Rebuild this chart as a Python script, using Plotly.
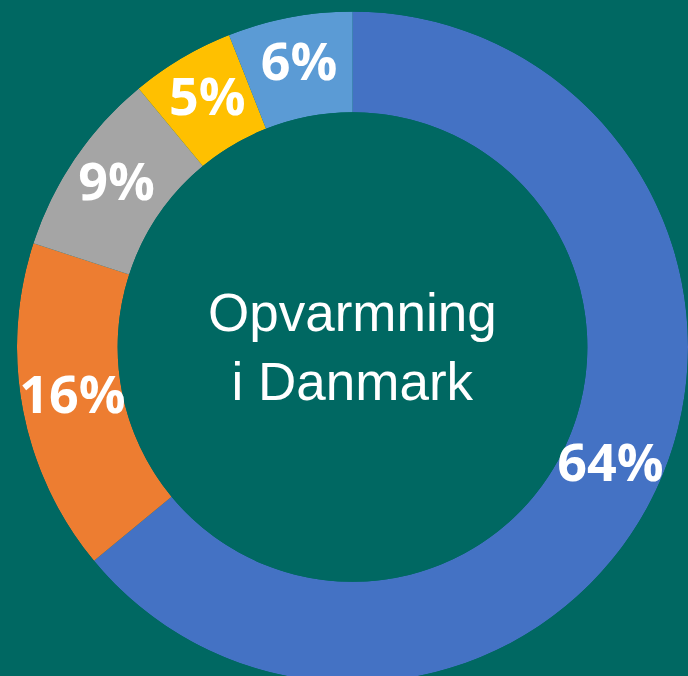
import plotly.graph_objects as go

# Data
categories = ["Kategori A", "Kategori B", "Kategori C", "Kategori D", "Kategori E"]
values = [64, 16, 9, 5, 6]
text_labels = ["64%", "16%", "9%", "5%", "6%"]
slice_colors = ["#4472C4", "#ED7D31", "#A5A5A5", "#FFC000", "#5B9BD5"]
center_title = "Opvarmning<br>i Danmark"

W, H = 688, 694
bg = "#006862"

total = sum(values)
widths = [v / total * 360 for v in values]
mids = []
acc = 0.0
for w in widths:
    mids.append(acc + w / 2)
    acc += w

fig = go.Figure()
fig.add_trace(go.Barpolar(
    r=[1] * len(values),
    base=[0] * len(values),
    theta=mids,
    width=widths,
    marker=dict(color=slice_colors, line=dict(width=0)),
    hoverinfo="skip",
    showlegend=False,
))
fig.add_trace(go.Scatterpolar(
    r=[0.5] * len(values),
    theta=mids,
    mode="text",
    text=text_labels,
    textposition="middle center",
    textfont=dict(family="Open Sans", size=52, color="white", weight="bold"),
    hoverinfo="skip",
    showlegend=False,
))

fig.add_annotation(
    text=center_title, x=(17 / W + 1) / 2, y=0.5, xref="paper", yref="paper",
    showarrow=False, xanchor="center", yanchor="middle",
    font=dict(family="Liberation Sans, Arial", size=53, color="white"),
)

fig.update_layout(
    width=W, height=H,
    margin=dict(l=0, r=0, t=0, b=0),
    paper_bgcolor=bg, plot_bgcolor=bg,
    polar=dict(
        domain=dict(x=[17 / W, 1], y=[0, 1]),
        bgcolor=bg,
        hole=0.70,
        radialaxis=dict(range=[0, 1], visible=False, showgrid=False),
        angularaxis=dict(direction="clockwise", rotation=90, visible=False,
                         showgrid=False, showline=False, ticks=""),
        bargap=0,
    ),
)

fig.write_html(
    "out.html",
    config={"displayModeBar": False},
    post_script="document.body.style.margin='0';document.body.style.overflow='hidden';",
)
